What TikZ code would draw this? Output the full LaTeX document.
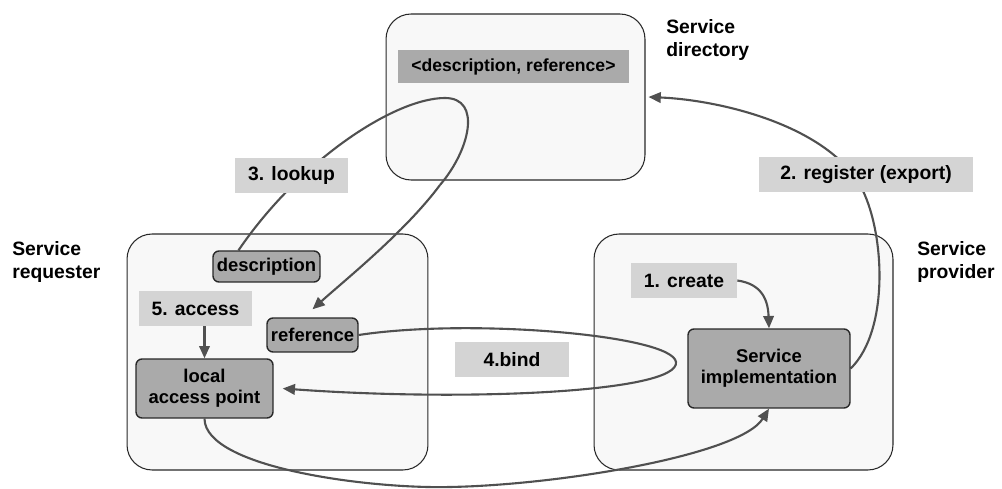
\documentclass[tikz,border=0pt]{standalone}
\usepackage{fontspec}
\setmainfont{Liberation Sans}
\usepackage{tikz}
\usetikzlibrary{arrows.meta, positioning, calc}
\definecolor{boxfill}{RGB}{248, 248, 248}
\definecolor{boxline}{RGB}{40, 40, 40}
\definecolor{tagfill}{RGB}{212, 212, 212}
\definecolor{partfill}{RGB}{170, 170, 170}
\definecolor{flowcolor}{RGB}{80, 80, 80}
\pgfdeclarelayer{frames}
\pgfdeclarelayer{flows}
\pgfsetlayers{frames,flows,main}

\begin{document}
\begin{tikzpicture}[
    x=0.02cm, y=-0.02cm,
    roleframe/.style={rectangle, draw=boxline, line width=0.6pt, fill=boxfill, rounded corners=0.5cm, minimum height=4.72cm},
    partbox/.style={rectangle, draw=boxline, line width=0.8pt, fill=partfill, rounded corners=0.12cm, font=\bfseries\fontsize{10.5}{12}\selectfont, align=center, inner sep=1pt},
    steptag/.style={rectangle, fill=tagfill, font=\bfseries\fontsize{11}{13}\selectfont, minimum height=0.7cm, inner sep=2pt},
    rolename/.style={anchor=west, inner sep=0pt, font=\bfseries\fontsize{11}{13.5}\selectfont, align=left},
    flow/.style={draw=flowcolor, line width=1.2pt, -{Triangle[length=7pt, width=6pt]}}
]
\useasboundingbox (0,0) rectangle (1002,489);

% the three parties
\begin{pgfonlayer}{frames}
\node[roleframe, minimum width=5.18cm, minimum height=3.32cm] (dir) at (515.5,97) {};
\node[roleframe, minimum width=6.02cm] (req) at (277.5,352) {};
\node[roleframe, minimum width=5.98cm] (prov) at (743.5,352) {};
\end{pgfonlayer}

\node[rolename] (dirname) at (666,40) {Service\\directory};
\node[rolename] (reqname) at (12,262) {Service\\requester};
\node[rolename] (provname) at (917,262) {Service\\provider};

% entries
\node[rectangle, fill=partfill, minimum width=4.62cm, minimum height=0.66cm, font=\bfseries\fontsize{10}{12}\selectfont] (entry) at (513.5,66.5) {<description, reference>};
\node[partbox, minimum width=2.14cm, minimum height=0.62cm] (desc) at (266.5,266.5) {description};
\node[partbox, minimum width=1.82cm, minimum height=0.68cm] (ref) at (312.5,335) {reference};
\node[partbox, minimum width=2.74cm, minimum height=1.18cm] (lap) at (204.5,388.5) {local\\access point};
\node[partbox, minimum width=3.24cm, minimum height=1.58cm] (impl) at (769,368.5) {Service\\implementation};

% step labels
\node[steptag, minimum width=2.26cm] (lookup) at (291.5,176) {3. lookup};
\node[steptag, minimum width=4.28cm] (register) at (866,175) {2. register (export)};
\node[steptag, minimum width=2.28cm] (bind) at (512,359.5) {4.bind};
\node[steptag, minimum width=2.26cm] (access) at (195.5,308.5) {5. access};
\node[steptag, minimum width=2.12cm] (create) at (684,280.5) {1. create};

% connectors
\begin{pgfonlayer}{flows}
\draw[flow, -] ([xshift=-0.56cm]desc.north) .. controls (300,160) and (395,98) .. (445,98)
    .. controls (482,98) and (470,150) .. (440,185);
\draw[flow] (440,185) .. controls (405,232) and (345,280) .. ([yshift=0.16cm]ref.north);
\draw[flow] (impl.east) .. controls (890,330) and (885,230) .. (860,185)
    .. controls (825,125) and (720,100) .. ([xshift=0.06cm]dir.east);
\draw[flow] (create.east) .. controls (762,284) and (768,300) .. (impl.north);
\draw[flow] (lap.north |- access.south) -- (lap.north);
\draw[flow] (ref.east) .. controls (470,318) and (672,335) .. (676,362)
    .. controls (680,392) and (470,402) .. ([xshift=0.18cm]lap.east);
\draw[flow] (lap.south) .. controls (205,468) and (370,489) .. (450,487)
    .. controls (560,485) and (740,455) .. (impl.south);
\end{pgfonlayer}

\end{tikzpicture}
\end{document}
